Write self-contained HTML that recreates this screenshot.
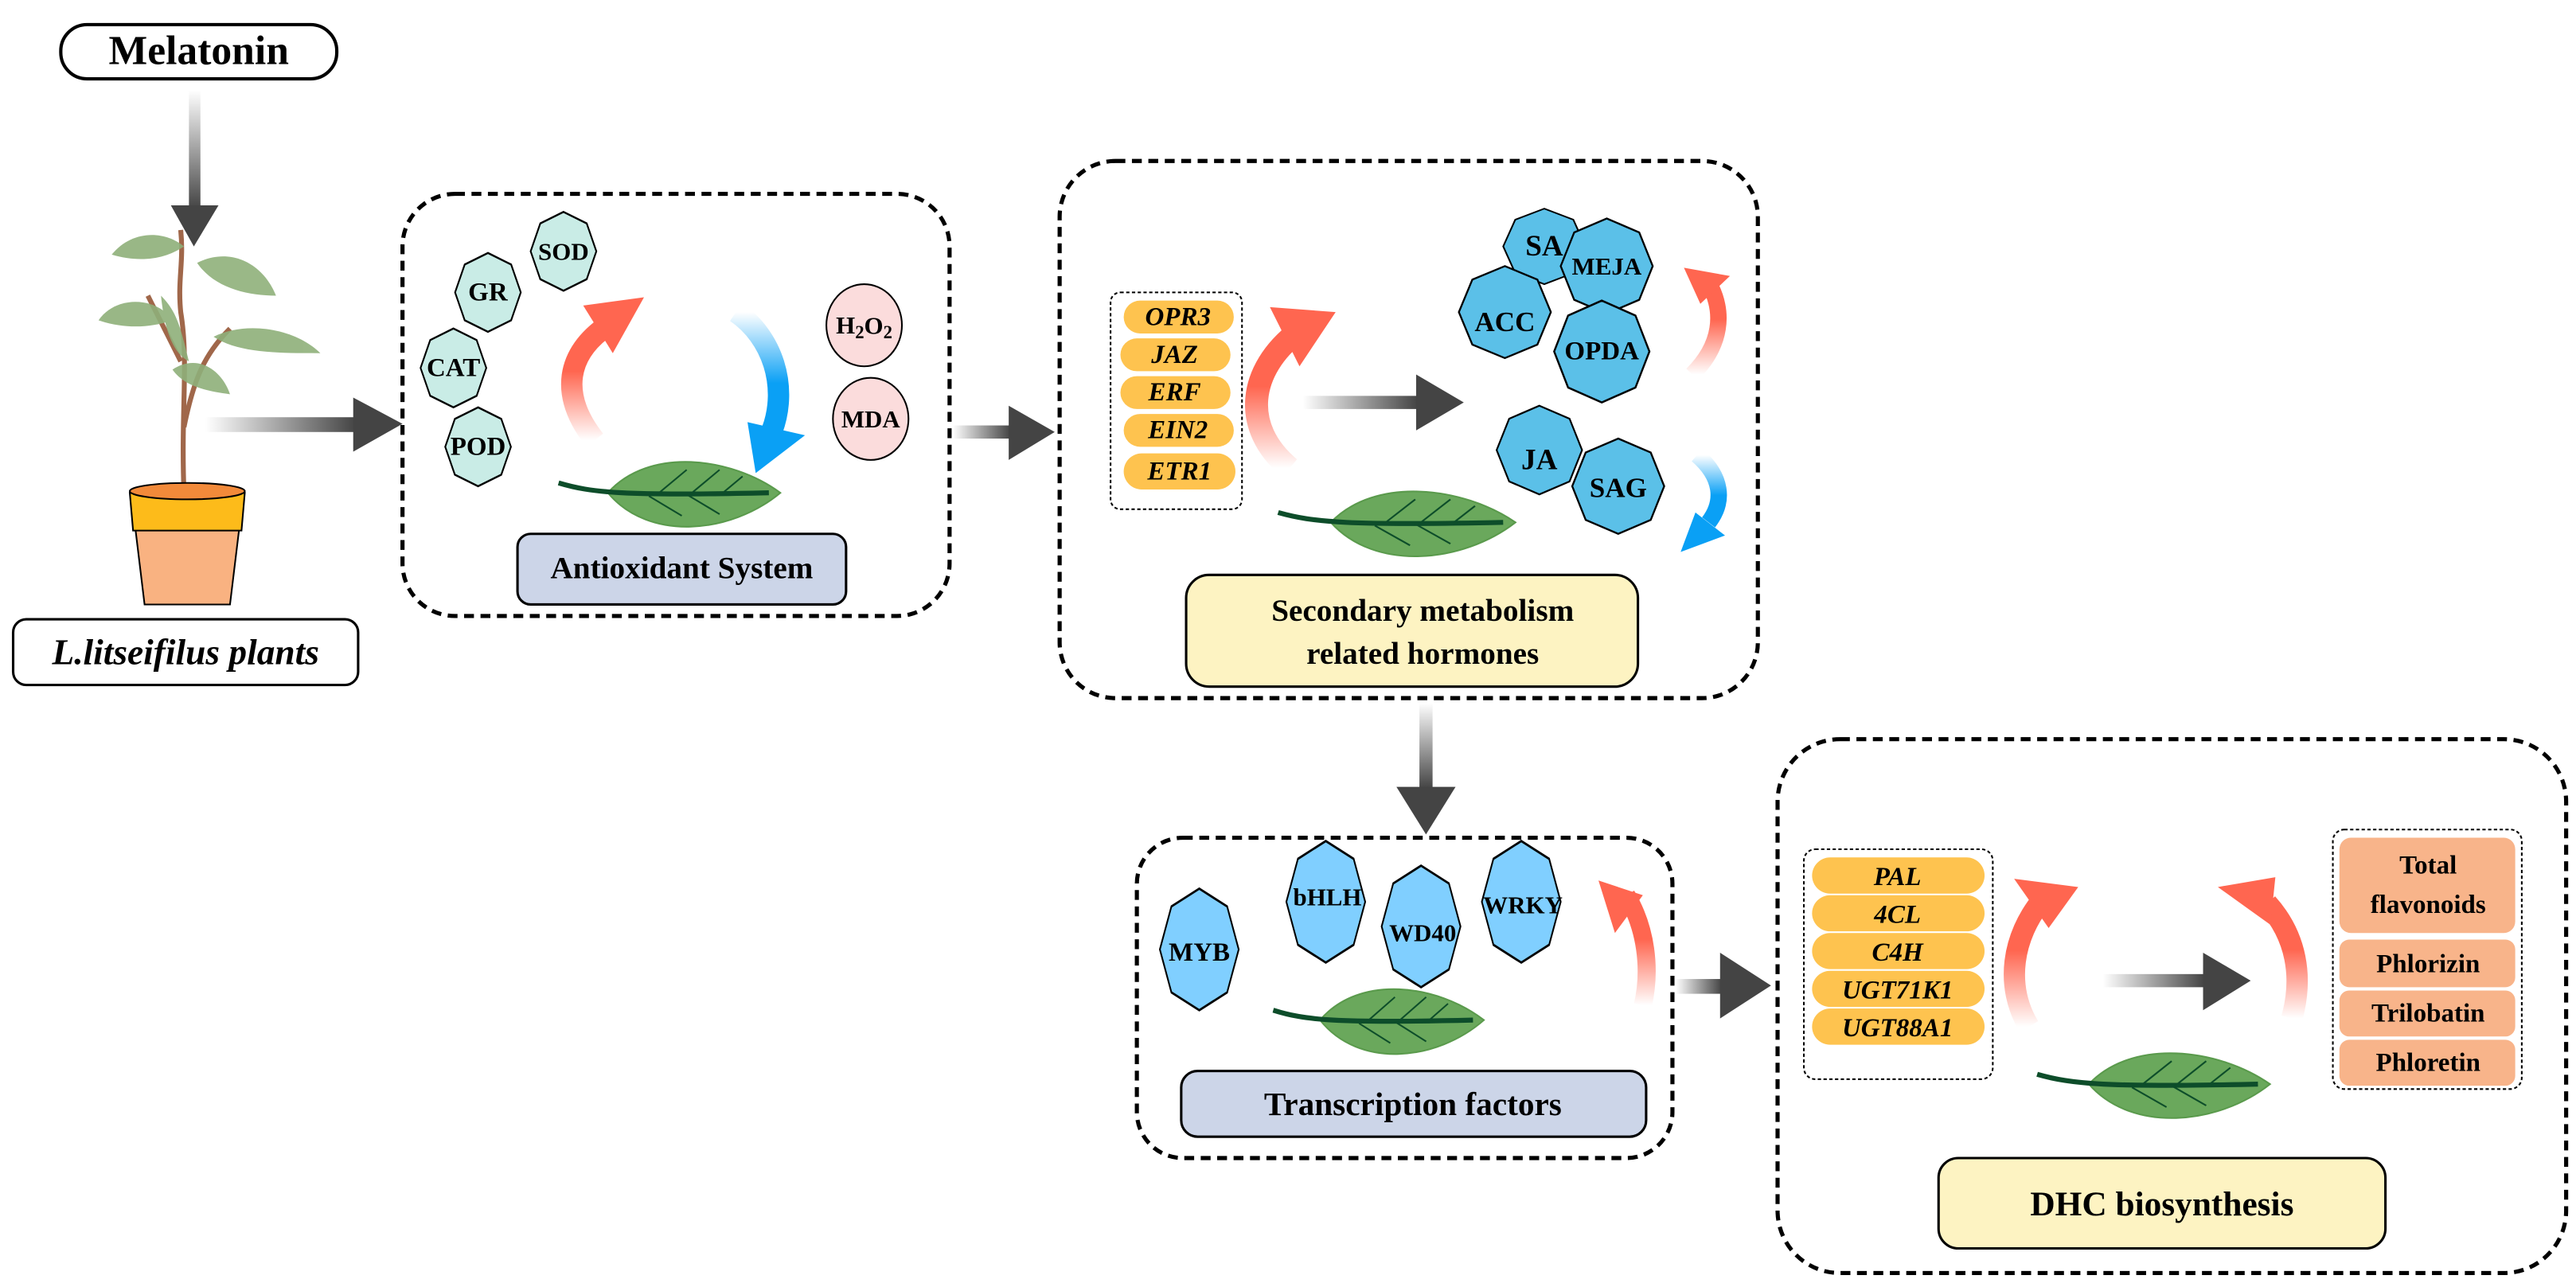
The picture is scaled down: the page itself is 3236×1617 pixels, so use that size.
<!DOCTYPE html>
<html><head><meta charset="utf-8"><style>
html,body{margin:0;padding:0;background:#fff;}
svg{display:block;}
text{font-family:"Liberation Serif",serif;font-weight:bold;text-anchor:middle;dominant-baseline:central;}
</style></head><body>
<svg width="3236" height="1617" viewBox="0 0 1568 783.5" preserveAspectRatio="none" xmlns="http://www.w3.org/2000/svg">
<defs>
<polygon id="oct" points="0,-1 0.707,-0.707 1,0 0.707,0.707 0,1 -0.707,0.707 -1,0 -0.707,-0.707"/>
<linearGradient id="gv" x1="0" y1="0" x2="0" y2="1"><stop offset="0" stop-color="#fff"/><stop offset="1" stop-color="#444"/></linearGradient>
<linearGradient id="gh" x1="0" y1="0" x2="1" y2="0"><stop offset="0" stop-color="#fff"/><stop offset="1" stop-color="#444"/></linearGradient>
<linearGradient id="gr" x1="0" y1="1" x2="0" y2="0"><stop offset="0" stop-color="#ff6650" stop-opacity="0"/><stop offset="0.6" stop-color="#ff6650"/><stop offset="1" stop-color="#ff6650"/></linearGradient>
<linearGradient id="gb" x1="0" y1="0" x2="0" y2="1"><stop offset="0" stop-color="#0aa0f5" stop-opacity="0"/><stop offset="0.6" stop-color="#0aa0f5"/><stop offset="1" stop-color="#0aa0f5"/></linearGradient>
<g id="leaf">
<path d="M30,0 C55,-28 105,-22 135,0 C105,25 55,30 30,0 Z" fill="#6aa85c" stroke="#5a9a4c" stroke-width="1"/>
<path d="M0,-6 C20,0 40,2 128,0" fill="none" stroke="#0d4d2a" stroke-width="3"/>
<path d="M60,1 L78,-14 M80,1 L98,-14 M100,0 L112,-10 M55,2 L75,14 M78,1 L98,13" stroke="#0d4d2a" stroke-width="1" fill="none"/>
</g>
</defs>

<!-- Melatonin -->
<rect x="37" y="15" width="168" height="33" rx="16" fill="#fff" stroke="#000" stroke-width="2"/>
<text x="121" y="31" font-size="25">Melatonin</text>
<rect x="115" y="55" width="7" height="72" fill="url(#gv)"/>
<polygon points="104,125 133,125 118,150" fill="#444"/>

<!-- Plant -->
<g fill="none" stroke="#a0674a" stroke-width="3">
<path d="M112,300 C110,250 115,220 110,190 C108,170 112,160 110,140"/>
<path d="M112,260 C118,230 125,215 140,200"/>
<path d="M110,220 C100,200 95,190 90,180"/>
</g>
<g fill="#8fb07a" opacity="0.9">
<path d="M68,155 C80,140 100,140 112,150 C100,158 85,160 68,155Z"/>
<path d="M120,160 C140,150 160,160 168,180 C150,180 130,175 120,160Z"/>
<path d="M60,195 C70,180 95,180 105,195 C90,200 75,200 60,195Z"/>
<path d="M130,205 C150,195 180,200 195,215 C170,215 145,215 130,205Z"/>
<path d="M98,180 C100,200 105,215 115,220 C110,200 108,190 98,180Z"/>
<path d="M105,225 C120,215 135,225 140,240 C125,238 112,235 105,225Z"/>
</g>
<path d="M80,302 L148,302 L140,368 L88,368 Z" fill="#f9b281" stroke="#000" stroke-width="1"/>
<path d="M79,300 L149,300 L147,323 L81,323 Z" fill="#fdbb1a" stroke="#000" stroke-width="1"/>
<ellipse cx="114" cy="299" rx="35" ry="5" fill="#f28a3a" stroke="#000" stroke-width="1"/>
<rect x="8" y="377" width="210" height="40" rx="8" fill="#fff" stroke="#000" stroke-width="1.5"/>
<text x="113" y="397" font-size="22" font-style="italic">L.litseifilus plants</text>
<rect x="125" y="254" width="92" height="9" fill="url(#gh)"/>
<polygon points="215,242 245,258 215,275" fill="#444"/>

<!-- Box1 -->
<rect x="245" y="118" width="333" height="257" rx="32" fill="none" stroke="#000" stroke-width="2.5" stroke-dasharray="6,4"/>
<g fill="#c9ece6" stroke="#000">
<use href="#oct" transform="translate(343,153) scale(20,24)" vector-effect="non-scaling-stroke" stroke-width="0.05"/>
<use href="#oct" transform="translate(297,178) scale(20,24)" stroke-width="0.05"/>
<use href="#oct" transform="translate(276,224) scale(20,24)" stroke-width="0.05"/>
<use href="#oct" transform="translate(291,272) scale(20,24)" stroke-width="0.05"/>
</g>
<text x="343" y="153" font-size="15">SOD</text>
<text x="297" y="178" font-size="16">GR</text>
<text x="276" y="224" font-size="16">CAT</text>
<text x="291" y="272" font-size="16">POD</text>
<ellipse cx="526" cy="198" rx="23" ry="25" fill="#fbdcdc" stroke="#000" stroke-width="1"/>
<ellipse cx="530" cy="255" rx="23" ry="25" fill="#fbdcdc" stroke="#000" stroke-width="1"/>
<text x="526" y="198" font-size="15">H<tspan font-size="11" dy="4">2</tspan><tspan dy="-4">O</tspan><tspan font-size="11" dy="4">2</tspan></text>
<text x="530" y="255" font-size="15">MDA</text>
<path d="M362,268 C340,240 345,215 370,198" fill="none" stroke="url(#gr)" stroke-width="13"/>
<polygon points="355,186 392,181 373,215" fill="#ff6650"/>
<path d="M448,190 C470,205 480,235 470,262" fill="none" stroke="url(#gb)" stroke-width="13"/>
<polygon points="455,257 490,265 460,288" fill="#0aa0f5"/>
<use href="#leaf" transform="translate(340,300)"/>
<rect x="315" y="325" width="200" height="43" rx="8" fill="#ccd5e8" stroke="#000" stroke-width="1.5"/>
<text x="415" y="346" font-size="19">Antioxidant System</text>
<rect x="580" y="259" width="35" height="8" fill="url(#gh)"/>
<polygon points="614,247 642,263 614,280" fill="#444"/>

<!-- Box2 -->
<rect x="645" y="98" width="425" height="327" rx="34" fill="none" stroke="#000" stroke-width="2.5" stroke-dasharray="6,4"/>
<rect x="676" y="178" width="80" height="132" rx="6" fill="none" stroke="#000" stroke-width="1" stroke-dasharray="2,1.5"/>
<g fill="#fec34f">
<rect x="684" y="183" width="67" height="20" rx="10"/>
<rect x="682" y="206" width="67" height="20" rx="10"/>
<rect x="682" y="229" width="67" height="20" rx="10"/>
<rect x="684" y="252" width="67" height="20" rx="10"/>
<rect x="684" y="276" width="68" height="22" rx="11"/>
</g>
<g font-style="italic" font-size="16">
<text x="717" y="193">OPR3</text><text x="715" y="216">JAZ</text><text x="715" y="239">ERF</text><text x="717" y="262">EIN2</text><text x="718" y="287">ETR1</text>
</g>
<path d="M785,285 C755,260 760,225 790,202" fill="none" stroke="url(#gr)" stroke-width="14"/>
<polygon points="773,187 813,190 791,223" fill="#ff6650"/>
<rect x="793" y="241" width="70" height="8" fill="url(#gh)"/>
<polygon points="862,228 891,245 862,262" fill="#444"/>
<g fill="#5bc0e8" stroke="#000">
<use href="#oct" transform="translate(940,150) scale(25,23)" stroke-width="0.04"/>
<use href="#oct" transform="translate(978,162) scale(28,29)" stroke-width="0.04"/>
<use href="#oct" transform="translate(916,190) scale(28,28)" stroke-width="0.04"/>
<use href="#oct" transform="translate(975,214) scale(29,31)" stroke-width="0.04"/>
<use href="#oct" transform="translate(937,274) scale(26,27)" stroke-width="0.04"/>
<use href="#oct" transform="translate(985,296) scale(28,29)" stroke-width="0.04"/>
</g>
<text x="940" y="150" font-size="18">SA</text>
<text x="978" y="162" font-size="15">MEJA</text>
<text x="916" y="196" font-size="17">ACC</text>
<text x="975" y="214" font-size="16">OPDA</text>
<text x="937" y="280" font-size="18">JA</text>
<text x="985" y="297" font-size="17">SAG</text>
<path d="M1030,228 C1048,210 1050,190 1040,172" fill="none" stroke="url(#gr)" stroke-width="10"/>
<polygon points="1025,163 1053,168 1035,185" fill="#ff6650"/>
<path d="M1033,277 C1048,290 1050,305 1040,318" fill="none" stroke="url(#gb)" stroke-width="10"/>
<polygon points="1032,312 1050,326 1023,336" fill="#0aa0f5"/>
<use href="#leaf" transform="translate(778,318) scale(1.07,1)"/>
<rect x="722" y="350" width="275" height="68" rx="14" fill="#fdf3c2" stroke="#000" stroke-width="1.5"/>
<text x="866" y="372" font-size="19">Secondary metabolism</text>
<text x="866" y="398" font-size="19">related hormones</text>
<rect x="864" y="428" width="8" height="52" fill="url(#gv)"/>
<polygon points="850,479 886,479 868,508" fill="#444"/>

<!-- Box3 -->
<rect x="692" y="510" width="326" height="195" rx="28" fill="none" stroke="#000" stroke-width="2.5" stroke-dasharray="6,4"/>
<g fill="#80cfff" stroke="#000">
<use href="#oct" transform="translate(730,578) scale(24,37)" stroke-width="0.04"/>
<use href="#oct" transform="translate(807,549) scale(24,37)" stroke-width="0.04"/>
<use href="#oct" transform="translate(865,564) scale(24,37)" stroke-width="0.04"/>
<use href="#oct" transform="translate(926,549) scale(24,37)" stroke-width="0.04"/>
</g>
<text x="730" y="580" font-size="16">MYB</text>
<text x="808" y="546" font-size="15">bHLH</text>
<text x="866" y="568" font-size="15">WD40</text>
<text x="927" y="551" font-size="15">WRKY</text>
<path d="M1000,612 C1005,590 1002,565 990,545" fill="none" stroke="url(#gr)" stroke-width="11"/>
<polygon points="973,536 1000,545 983,568" fill="#ff6650"/>
<use href="#leaf" transform="translate(775,621) scale(0.95,1)"/>
<rect x="719" y="652" width="283" height="40" rx="10" fill="#ccd5e8" stroke="#000" stroke-width="1.5"/>
<text x="860" y="672" font-size="20">Transcription factors</text>
<rect x="1020" y="596" width="28" height="9" fill="url(#gh)"/>
<polygon points="1047,580 1078,600 1047,620" fill="#444"/>

<!-- Box4 -->
<rect x="1082" y="450" width="480" height="325" rx="38" fill="none" stroke="#000" stroke-width="2.5" stroke-dasharray="6,4"/>
<rect x="1098" y="517" width="115" height="140" rx="7" fill="none" stroke="#000" stroke-width="1" stroke-dasharray="2,1.5"/>
<g fill="#fec34f">
<rect x="1103" y="522" width="105" height="22" rx="11"/>
<rect x="1103" y="545" width="105" height="22" rx="11"/>
<rect x="1103" y="568" width="105" height="22" rx="11"/>
<rect x="1103" y="591" width="105" height="22" rx="11"/>
<rect x="1103" y="614" width="105" height="22" rx="11"/>
</g>
<g font-style="italic" font-size="16">
<text x="1155" y="534">PAL</text><text x="1155" y="557">4CL</text><text x="1155" y="580">C4H</text><text x="1155" y="603" font-weight="normal">UGT71K1</text><text x="1155" y="626" font-weight="normal">UGT88A1</text>
</g>
<path d="M1235,625 C1220,600 1225,570 1243,548" fill="none" stroke="url(#gr)" stroke-width="13"/>
<polygon points="1226,535 1265,540 1247,565" fill="#ff6650"/>
<path d="M1395,620 C1402,595 1398,570 1380,550" fill="none" stroke="url(#gr)" stroke-width="13"/>
<polygon points="1350,540 1385,534 1382,563" fill="#ff6650"/>
<rect x="1280" y="593" width="62" height="8" fill="url(#gh)"/>
<polygon points="1341,580 1370,597 1341,615" fill="#444"/>
<rect x="1420" y="505" width="115" height="158" rx="7" fill="none" stroke="#000" stroke-width="1" stroke-dasharray="2,1.5"/>
<g fill="#f8b48a">
<rect x="1424" y="510" width="107" height="58" rx="7"/>
<rect x="1424" y="572" width="107" height="29" rx="6"/>
<rect x="1424" y="603" width="107" height="28" rx="6"/>
<rect x="1424" y="633" width="107" height="28" rx="6"/>
</g>
<g font-size="16"><text x="1478" y="527">Total</text><text x="1478" y="551">flavonoids</text><text x="1478" y="587">Phlorizin</text><text x="1478" y="617">Trilobatin</text><text x="1478" y="647">Phloretin</text></g>
<use href="#leaf" transform="translate(1240,660) scale(1.05,1)"/>
<rect x="1180" y="705" width="272" height="55" rx="12" fill="#fdf3c2" stroke="#000" stroke-width="1.5"/>
<text x="1316" y="733" font-size="21">DHC biosynthesis</text>
</svg>
</body></html>
